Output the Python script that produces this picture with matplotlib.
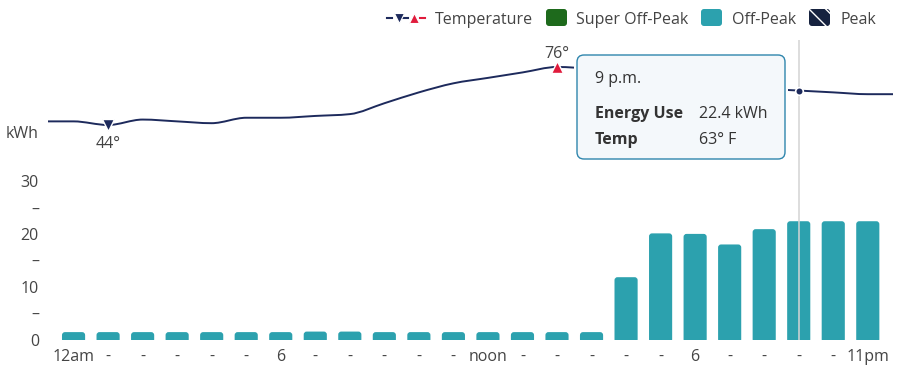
import numpy as np
import matplotlib.pyplot as plt
from matplotlib.patches import FancyBboxPatch, PathPatch
from matplotlib.path import Path
from matplotlib.lines import Line2D

plt.rcParams['font.family'] = ['Open Sans', 'DejaVu Sans']

hours = list(range(24))
usage = [1.4, 1.4, 1.4, 1.4, 1.4, 1.4, 1.4, 1.5, 1.5, 1.4, 1.4, 1.4, 1.4, 1.4, 1.4, 1.4,
         11.8, 20.1, 20.0, 18.0, 20.9, 22.4, 22.4, 22.4]
temps = [46, 44, 47, 46, 45, 48, 48, 49, 50, 56, 62, 67, 70, 73, 76, 75,
         73, 70, 67, 65, 64, 63, 62, 61]
hour_labels = ['12am', '-', '-', '-', '-', '-', '6', '-', '-', '-', '-', '-',
               'noon', '-', '-', '-', '-', '-', '6', '-', '-', '-', '-', '11pm']
kwh_ticks = [0, 5, 10, 15, 20, 25, 30]
kwh_labels = ['0', '–', '10', '–', '20', '–', '30']
hover = 21
hover_label = '9 p.m.'
legend_names = ['Temperature', 'Super Off-Peak', 'Off-Peak', 'Peak']

teal = '#2ca1ae'
navy = '#1d2a5c'
red = '#e01b3c'
green = '#1e6a1c'
peak = '#16223f'
txt = '#444444'
fs = 11.5

W, H = 913, 377


def px(x, y):
    # pixel position (from top-left) -> inches for dpi_scale_trans
    return x / 100, (H - y) / 100


def smooth_path(x, y):
    # monotone cubic through the points, drawn as bezier segments
    x = np.asarray(x, float)
    y = np.asarray(y, float)
    h = np.diff(x)
    s = np.diff(y) / h
    m = np.zeros(len(x))
    m[0], m[-1] = s[0], s[-1]
    for i in range(1, len(x) - 1):
        p = (s[i - 1] * h[i] + s[i] * h[i - 1]) / (h[i - 1] + h[i])
        m[i] = (np.sign(s[i - 1]) + np.sign(s[i])) * min(abs(s[i - 1]), abs(s[i]), 0.5 * abs(p))
    verts = [(x[0], y[0])]
    codes = [Path.MOVETO]
    for i in range(len(x) - 1):
        d = h[i] / 3
        verts += [(x[i] + d, y[i] + m[i] * d), (x[i + 1] - d, y[i + 1] - m[i + 1] * d), (x[i + 1], y[i + 1])]
        codes += [Path.CURVE4] * 3
    return Path(verts, codes)


fig = plt.figure(figsize=(W / 100, H / 100), dpi=100)

# bars
x0, x1 = -0.74, 23.73
ax_left, ax_right, ax_bottom, ax_top = 48, 893, 339.5, 40
ax = fig.add_axes([ax_left / W, (H - ax_bottom) / H, (ax_right - ax_left) / W, (ax_bottom - ax_top) / H])
ymax = (ax_bottom - ax_top) / 5.28
bars = ax.bar(hours, usage, width=0.67, color=teal)
px_x = (ax_right - ax_left) / (x1 - x0)
px_y = (ax_bottom - ax_top) / ymax
aspect = px_x / px_y
r = 3 / px_x
for b in bars:
    bx, by = b.get_xy()
    b.set_visible(False)
    ax.add_patch(FancyBboxPatch((bx, by - r * aspect), b.get_width(), b.get_height() + r * aspect,
                                boxstyle=f'round,pad=0,rounding_size={r}', mutation_aspect=aspect,
                                fc=teal, ec='none', zorder=2))
ax.set_xlim(x0, x1)
ax.set_ylim(0, ymax)
ax.set_xticks(hours, hour_labels)
ax.set_yticks(kwh_ticks, kwh_labels)
ax.tick_params(length=0, labelsize=fs, labelcolor=txt)
ax.tick_params(axis='x', pad=6.8)
ax.tick_params(axis='y', pad=6.5)
for lbl in ax.get_yticklabels():
    lbl.set_y(lbl.get_position()[1])
for sp in ax.spines.values():
    sp.set_visible(False)
ax.axvline(hover, color='#d4d4d4', lw=1.3, alpha=0.85, zorder=3)

# temperature line
t_top, t_bottom = 40, 132.25
axt = fig.add_axes([ax_left / W, (H - t_bottom) / H, (ax_right - ax_left) / W, (t_bottom - t_top) / H])
axt.set_xlim(x0, x1)
axt.set_ylim(40, 40 + (t_bottom - t_top) / 1.8125)
axt.axis('off')
line_x = [x0] + hours + [x1]
line_y = [temps[0]] + temps + [temps[-1]]
axt.add_patch(PathPatch(smooth_path(line_x, line_y), fill=False, ec=navy, lw=1.4))
imin = int(np.argmin(temps))
imax = int(np.argmax(temps))
axt.plot(imin, temps[imin], marker='v', ms=9, color=navy, mec='white', mew=1)
axt.plot(imax, temps[imax], marker='^', ms=9, color=red, mec='white', mew=1)
axt.plot(hover, temps[hover], marker='o', ms=5.5, color=navy, mec='white', mew=1.2)
axt.annotate(f'{temps[imin]}°', (imin, temps[imin]), xytext=(0, -18.5), textcoords='offset pixels',
             ha='center', va='center', fontsize=fs, color=txt)
axt.annotate(f'{temps[imax]}°', (imax, temps[imax]), xytext=(0, 12.5), textcoords='offset pixels',
             ha='center', va='center', fontsize=fs, color=txt)

fig.text(*px(6, 133.5), 'kWh', transform=fig.dpi_scale_trans, ha='left', va='center',
         fontsize=fs, color=txt)

# tooltip
tr = fig.dpi_scale_trans
fig.add_artist(FancyBboxPatch(px(574, 162), 2.14, 1.10, boxstyle='round,pad=0,rounding_size=0.09',
                              fc='white', ec='none', transform=tr, zorder=5))
fig.add_artist(FancyBboxPatch(px(577, 159), 2.08, 1.04, boxstyle='round,pad=0,rounding_size=0.07',
                              fc='#f4f8fb', ec='#2f86ad', lw=1.0, transform=tr, zorder=6))
fig.text(*px(595, 79), hover_label, transform=tr, ha='left', va='center', fontsize=fs,
         color='#333333', zorder=7)
fig.text(*px(595, 114), 'Energy Use', transform=tr, ha='left', va='center', fontsize=fs,
         fontweight='bold', color='#333333', zorder=7)
fig.text(*px(595, 140), 'Temp', transform=tr, ha='left', va='center', fontsize=fs,
         fontweight='bold', color='#333333', zorder=7)
fig.text(*px(699, 114), f'{usage[hover]} kWh', transform=tr, ha='left', va='center', fontsize=fs,
         color='#333333', zorder=7)
fig.text(*px(699, 140), f'{temps[hover]}° F', transform=tr, ha='left', va='center', fontsize=fs,
         color='#333333', zorder=7)

# legend
ly = 17.5
for (a, b), c in zip([(387, 392), (403, 408), (420, 425)], [navy, navy, red]):
    fig.add_artist(Line2D([px(a, ly)[0], px(b, ly)[0]], [px(a, ly)[1]] * 2, color=c, lw=1.5, transform=tr))
fig.add_artist(Line2D([px(398.5, ly)[0]], [px(398.5, ly)[1]], marker='v', ms=7, color=navy,
                      mec='white', mew=0.8, transform=tr))
fig.add_artist(Line2D([px(414, ly)[0]], [px(414, ly)[1]], marker='^', ms=7, color=red,
                      mec='white', mew=0.8, transform=tr))
fig.text(*px(435, ly + 2), legend_names[0], transform=tr, ha='left', va='center', fontsize=fs, color=txt)
for sx, tx, name, c, hatch in [(546, 576, legend_names[1], green, None),
                               (701, 732, legend_names[2], teal, None),
                               (809, 840, legend_names[3], peak, '\\\\')]:
    fig.add_artist(FancyBboxPatch(px(sx, ly + 8.5), 0.21, 0.17, boxstyle='round,pad=0,rounding_size=0.03',
                                  fc=c, ec='white' if hatch else 'none', lw=0, hatch=hatch, transform=tr))
    fig.text(*px(tx, ly + 2), name, transform=tr, ha='left', va='center', fontsize=fs, color=txt)

fig.savefig('out.png', dpi=100)
